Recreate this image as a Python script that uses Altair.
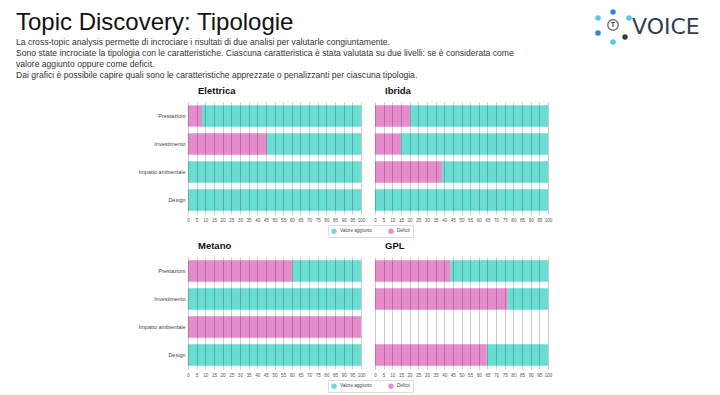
import altair as alt
import pandas as pd

# ---------------- data ----------------
categories = ["Prestazioni", "Investimento", "Impatto ambientale", "Design"]
series_names = ["Valore aggiunto", "Deficit"]
tick_values = [0, 5, 10, 15, 20, 25, 30, 35, 40, 45, 50, 55, 60, 65, 70, 75, 80, 85, 90, 95, 100]

elettrica_deficit = [8.1, 45.7, 0, 0]
elettrica_valore = [91.9, 54.3, 100, 100]
ibrida_deficit = [20.4, 15.1, 38.8, 0]
ibrida_valore = [79.6, 84.9, 61.2, 100]
metano_deficit = [60.2, 0, 100, 0]
metano_valore = [39.8, 100, 0, 100]
gpl_deficit = [43.7, 76.7, 0, 64.6]
gpl_valore = [56.3, 23.3, 0, 35.4]

title_text = "Topic Discovery: Tipologie"
body_lines = [
    "La cross-topic analysis permette di incrociare i risultati di due analisi per valutarle congiuntamente.",
    "Sono state incrociate la tipologia con le caratteristiche. Ciascuna caratteristica è stata valutata su due livelli: se è considerata come",
    "valore aggiunto oppure come deficit.",
    "Dai grafici è possibile capire quali sono le caratteristiche apprezzate o penalizzanti per ciascuna tipologia.",
]

# ---------------- style ----------------
TEAL = "#69DDD1"
PINK = "#E68BCC"
FONT = "Liberation Sans"
EXT = 50            # y-axis extent of left panels
L = 188             # x of the left panels' plot origin on the page
PW, PH = 173, 112


def panel(name, deficit, valore, left):
    df = pd.DataFrame({
        "categoria": categories * 2,
        "serie": ["Deficit"] * len(categories) + ["Valore aggiunto"] * len(categories),
        "ordine": [0] * len(categories) + [1] * len(categories),
        "valore": deficit + valore,
    })
    if left:
        yaxis = alt.Axis(labels=True, ticks=False, domain=False, grid=False,
                         labelFontSize=5.5, labelColor="#444", labelPadding=3,
                         minExtent=EXT, maxExtent=EXT, labelFont=FONT)
    else:
        yaxis = None
    return alt.Chart(df).mark_bar().encode(
        y=alt.Y("categoria:N", sort=categories, title=None,
                scale=alt.Scale(paddingInner=0.24, paddingOuter=0.12),
                axis=yaxis),
        x=alt.X("valore:Q", stack="zero", title=None,
                scale=alt.Scale(domain=[0, 100], nice=False),
                axis=alt.Axis(values=tick_values, grid=True, gridColor="#000000",
                              gridOpacity=0.2, gridWidth=1, ticks=False, domain=False,
                              labelFontSize=4.6, labelColor="#555", labelPadding=3,
                              labelFlush=False, zindex=1, labelFont=FONT)),
        color=alt.Color("serie:N",
                        scale=alt.Scale(domain=series_names, range=[TEAL, PINK]),
                        legend=alt.Legend(orient="none", legendX=140, legendY=123,
                                          direction="horizontal", title=None,
                                          symbolType="circle", symbolSize=28,
                                          symbolStrokeWidth=0, labelFontSize=4.6,
                                          labelColor="#444", labelFont=FONT,
                                          strokeColor="#dddddd", padding=3,
                                          columnPadding=16, labelOffset=3)),
        order=alt.Order("ordine:Q"),
    ).properties(
        width=PW, height=PH,
        title=alt.TitleParams(name, anchor="start", frame="group", dx=10,
                              fontSize=9.5, fontWeight="bold", color="#111",
                              font=FONT, baseline="alphabetic", offset=-1),
    )


row1 = alt.hconcat(
    panel("Elettrica", elettrica_deficit, elettrica_valore, True),
    panel("Ibrida", ibrida_deficit, ibrida_valore, False),
    spacing=8,
).resolve_scale(color="shared").resolve_legend(color="shared")

row2 = alt.hconcat(
    panel("Metano", metano_deficit, metano_valore, True),
    panel("GPL", gpl_deficit, gpl_valore, False),
    spacing=8,
).resolve_scale(color="shared").resolve_legend(color="shared")

# ---------------- header (title, text, logo) ----------------
hdr = alt.Chart(pd.DataFrame({"k": [0]}))
title_mark = hdr.mark_text(text=title_text, align="left", baseline="alphabetic",
                           fontSize=24, font=FONT, color="#111").encode(
    x=alt.value(16 - L), y=alt.value(22))
body_mark = hdr.mark_text(text=body_lines, align="left", baseline="alphabetic",
                          fontSize=8.6, font=FONT, color="#333",
                          lineHeight=11).encode(
    x=alt.value(16 - L), y=alt.value(37))
logo_text = hdr.mark_text(text="VOICE", align="left", baseline="middle",
                          fontSize=22, font="DejaVu Sans", color="#2f3d4f").encode(
    x=alt.value(632 - L), y=alt.value(19))
logo_ring = hdr.mark_point(shape="circle", size=110, filled=False,
                           color="#2f3d4f", strokeWidth=1.5).encode(
    x=alt.value(613 - L), y=alt.value(17))
logo_t = hdr.mark_text(text="T", fontSize=7, fontWeight="bold", font=FONT,
                       color="#2f3d4f", baseline="middle").encode(
    x=alt.value(613 - L), y=alt.value(17))
dots = []
for (dx, dy, c) in [(0, -13, "#3b7fd8"), (16, -7, "#4fcbe8"), (-15, -7, "#4fcbe8"),
                    (-15, 8, "#3b7fd8"), (0, 17, "#4fcbe8"), (12, 12, "#2f3d4f")]:
    dots.append(hdr.mark_circle(size=30, opacity=1, color=c).encode(
        x=alt.value(613 - L + dx), y=alt.value(17 + dy)))

header = alt.layer(title_mark, body_mark, logo_text, logo_ring, logo_t, *dots).properties(
    width=360, height=75)

chart = alt.vconcat(header, row1, row2, spacing=2).resolve_scale(
    color="independent").resolve_legend(color="independent").properties(
    padding={"left": 8, "top": 0, "right": 4, "bottom": 2},
    background="white",
).configure(font=FONT, view=alt.ViewConfig(stroke=None))

chart.save("out.html", embed_options={"renderer": "svg", "actions": False})
